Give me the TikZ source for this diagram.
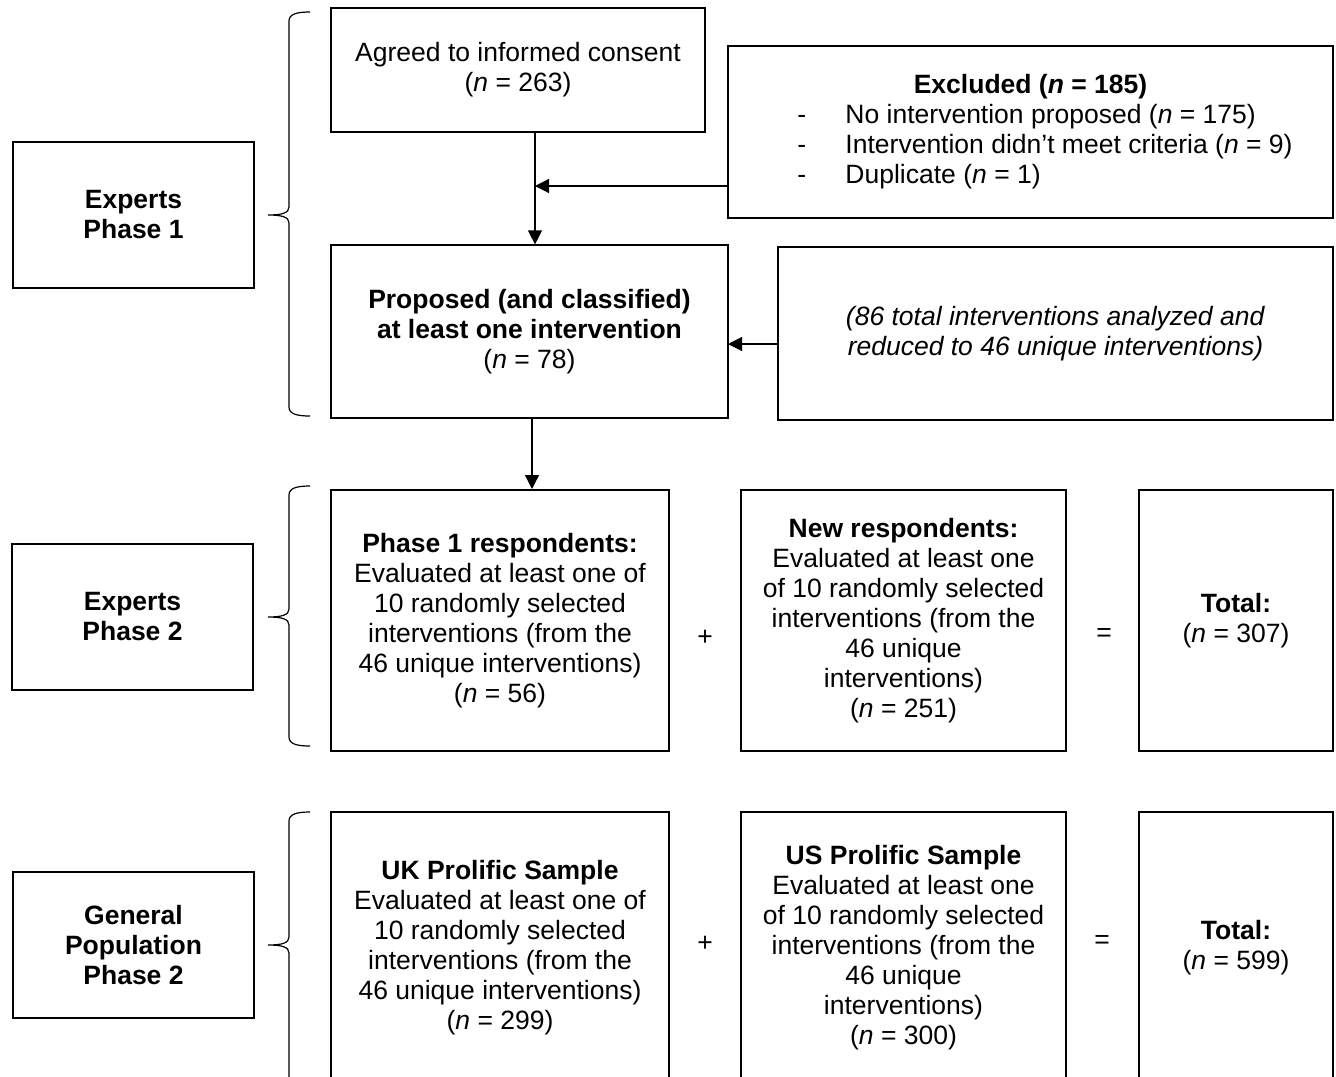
\documentclass[tikz,border=0pt]{standalone}
\usepackage{fontspec}
\setmainfont{Liberation Sans}
\usetikzlibrary{arrows.meta}

\begin{document}
\begin{tikzpicture}[x=0.5pt,y=-0.5pt,>={Triangle[length=7pt,width=7pt]},line width=0.6pt,
  panel/.style={draw,inner sep=0pt,align=center,font=\fontsize{13.25}{15}\selectfont,
    execute at begin node={\rule{0pt}{13.5pt}}},
  opsign/.style={inner sep=0pt,font=\fontsize{13.25}{15}\selectfont}]
  \useasboundingbox (0,0) rectangle (1336,1076);
  \clip (0,0) rectangle (1336,1076);

  % phase labels on the left
  \node[panel,minimum width=120.5pt,minimum height=73pt](exp1)at(133.5,215){\textbf{Experts}\\\textbf{Phase 1}};
  \node[panel,minimum width=120.5pt,minimum height=73pt](exp2)at(132.5,617){\textbf{Experts}\\\textbf{Phase 2}};
  \node[panel,minimum width=120.5pt,minimum height=73pt](gen2)at(133.5,945){\textbf{General}\\\textbf{Population}\\\textbf{Phase 2}};

  % braces
  \foreach \yt/\ym/\yb in {12/215/416,486/617/746,812/945/1160}{
    \draw(310,\yt)..controls(297,\yt)and(289,{\yt+2})..(289,{\yt+9})--(289,{\ym-8})
      ..controls(289,{\ym-2})and(282,\ym)..(268,\ym)..controls(282,\ym)and(289,{\ym+2})..(289,{\ym+8})
      --(289,{\yb-9})..controls(289,{\yb-2})and(297,\yb)..(310,\yb);
  }

  % phase 1
  \node[panel,minimum width=187pt,minimum height=62pt](agreed)at(518,70){Agreed to informed consent\\(\textit{n} = 263)};
  \node[panel,minimum width=302.5pt,minimum height=86pt](excl)at(1030.5,132){%
    \begin{tabular}{@{\hspace{14.5pt}}l@{}l@{}}
      \multicolumn{2}{@{}c@{}}{\textbf{Excluded (\textit{n} = 185)}}\\
      \makebox[24pt][l]{-}&No intervention proposed (\textit{n} = 175)\\
      \makebox[24pt][l]{-}&Intervention didn’t meet criteria (\textit{n} = 9)\\
      \makebox[24pt][l]{-}&Duplicate (\textit{n} = 1)
    \end{tabular}};
  \node[panel,minimum width=198.5pt,minimum height=86.5pt](prop)at(529.5,331.5){\textbf{Proposed (and classified)}\\\textbf{at least one intervention}\\(\textit{n} = 78)};
  \node[panel,minimum width=277.5pt,minimum height=86.5pt](note)at(1055.5,333.5){\textit{(86 total interventions analyzed and}\\\textit{reduced to 46 unique interventions)}};

  \coordinate(exclin)at(535,186);
  \coordinate(notein)at(728,344);
  \coordinate(down)at(532,455);
  \draw[->](agreed.south -| exclin)--(prop.north -| exclin);
  \draw[->](excl.west |- exclin)--(exclin);
  \draw[->](note.west |- notein)--(notein);
  \draw[->](prop.south -| down)--(down |- 0,489);

  % phase 2, experts
  \node[panel,minimum width=169pt,minimum height=130.5pt](p1resp)at(500,620.5){\textbf{Phase 1 respondents:}\\Evaluated at least one of\\10 randomly selected\\interventions (from the\\46 unique interventions)\\(\textit{n} = 56)};
  \node[panel,minimum width=162.5pt,minimum height=130.5pt](newresp)at(903.5,620.5){\textbf{New respondents:}\\Evaluated at least one\\of 10 randomly selected\\interventions (from the\\46 unique\\interventions)\\(\textit{n} = 251)};
  \node[panel,minimum width=97pt,minimum height=130.5pt](tot2)at(1236,620.5){\textbf{Total:}\\(\textit{n} = 307)};
  \node[opsign](plus2)at(705,638){+};
  \node[opsign](eq2)at(1104,635){=};

  % phase 2, general population
  \node[panel,minimum width=169pt,minimum height=136pt](uk)at(500,948){\textbf{UK Prolific Sample}\\Evaluated at least one of\\10 randomly selected\\interventions (from the\\46 unique interventions)\\(\textit{n} = 299)};
  \node[panel,minimum width=162.5pt,minimum height=136pt](us)at(903.5,948){\textbf{US Prolific Sample}\\Evaluated at least one\\of 10 randomly selected\\interventions (from the\\46 unique\\interventions)\\(\textit{n} = 300)};
  \node[panel,minimum width=97pt,minimum height=136pt](tot3)at(1236,948){\textbf{Total:}\\(\textit{n} = 599)};
  \node[opsign](plus3)at(705,944){+};
  \node[opsign](eq3)at(1102,942){=};
\end{tikzpicture}
\end{document}
